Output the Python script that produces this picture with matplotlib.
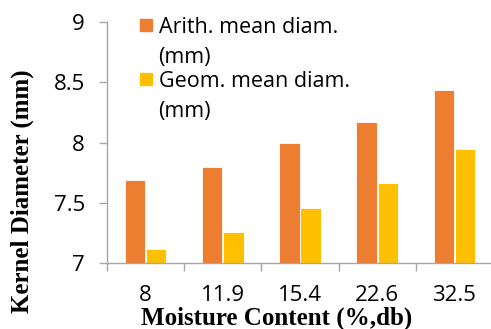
import matplotlib.pyplot as plt
import numpy as np
from matplotlib.patches import Rectangle

# moisture levels and kernel diameters (mm)
moisture = ["8", "11.9", "15.4", "22.6", "32.5"]
arith_mean = [7.69, 7.80, 8.00, 8.17, 8.44]
geom_mean = [7.12, 7.26, 7.46, 7.66, 7.95]
series_names = ["Arith. mean diam.\n(mm)", "Geom. mean diam.\n(mm)"]
y_ticks = [7, 7.5, 8, 8.5, 9]

ORANGE = "#ED7D31"
YELLOW = "#FFC000"
GREY = "#A6A6A6"
TICK_FONT = "Open Sans"
LABEL_FONT = "Liberation Serif"

fig = plt.figure(figsize=(4.91, 3.29), dpi=100)
ax = fig.add_axes([0.218, 0.2006, 0.786, 0.7324])

x = np.arange(len(moisture))
w = 0.265
ax.bar(x - 0.137, arith_mean, w, bottom=0, color=ORANGE, edgecolor="white", linewidth=0.6)
ax.bar(x + 0.137, geom_mean, w, bottom=0, color=YELLOW, edgecolor="white", linewidth=0.6)

ax.set_ylim(7, 9)
ax.set_xlim(-0.5, len(moisture) - 0.5)
ax.set_yticks(y_ticks)
ax.set_yticklabels([f"{t:g}" for t in y_ticks], fontfamily=TICK_FONT, fontsize=16)
ax.set_xticks(x)
ax.set_xticklabels(moisture, fontfamily=TICK_FONT, fontsize=16)
ax.set_xticks(np.arange(len(moisture) + 1) - 0.5, minor=True)
ax.tick_params(axis="x", which="major", length=0, pad=16)
ax.tick_params(axis="x", which="minor", length=6, color=GREY, width=1)
ax.tick_params(axis="y", length=6, color=GREY, width=1, pad=10)

for side in ("top", "right"):
    ax.spines[side].set_visible(False)
for side in ("left", "bottom"):
    ax.spines[side].set_color(GREY)
    ax.spines[side].set_linewidth(1)

fig.text(0.563, 0.032, "Moisture Content (%,db)", ha="center", va="center",
         fontfamily=LABEL_FONT, fontweight="bold", fontsize=18)
fig.text(0.045, 0.42, "Kernel Diameter (mm)", ha="center", va="center", rotation=90,
         fontfamily=LABEL_FONT, fontweight="bold", fontsize=18)

# legend drawn by hand: square patch beside two-line label
for i, (name, color) in enumerate(zip(series_names, [ORANGE, YELLOW])):
    top = 0.945 - i * 0.164
    fig.patches.append(Rectangle((0.285, top - 0.04), 0.025, 0.038, color=color,
                                 transform=fig.transFigure))
    fig.text(0.323, top + 0.003, name, ha="left", va="top", fontfamily=TICK_FONT,
             fontsize=15.5, linespacing=1.55)

fig.savefig("out.png", dpi=100)
